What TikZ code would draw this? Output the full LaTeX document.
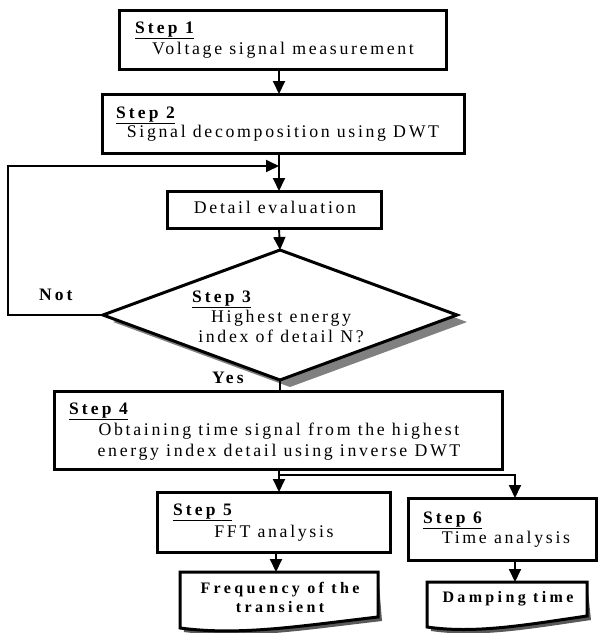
\documentclass[tikz,border=0pt]{standalone}
\usepackage{fontspec}
\setmainfont{Liberation Serif}[LetterSpace=15]
\newfontfamily\labfont{Liberation Serif}[LetterSpace=18]
\newfontfamily\docfont{Liberation Serif}[LetterSpace=21]
\usetikzlibrary{arrows.meta,shapes.geometric,shadows}
\begin{document}
\begin{tikzpicture}[x=1pt,y=-1pt,
  every node/.style={font=\fontsize{17.8}{21}\selectfont, inner sep=0pt, outer sep=0pt},
  stepbox/.style={draw, line width=3pt, fill=white},
  decbox/.style={draw, diamond, line width=3pt, fill=white, inner sep=0pt,
     drop shadow={shadow xshift=10pt, shadow yshift=-7pt, fill=black!50, opacity=1}},
  arr/.style={line width=1.9pt, -{Triangle[length=13pt,width=12pt]}},
  plain/.style={line width=1.9pt},
  docline/.style={line width=3pt, fill=white},
  docshadow/.style={fill=black!65, shift={(4,4)}},
  lab/.style={anchor=base west, font=\fontsize{17.5}{20}\selectfont\labfont\bfseries},
  txt/.style={anchor=base},
  btxt/.style={anchor=base, font=\fontsize{16}{19}\selectfont\docfont\bfseries}
]
\useasboundingbox (0,0) rectangle (598,633);

% column coordinates
\coordinate (colx) at (279,0);
\coordinate (c5) at (276,0);
\coordinate (c6) at (515,0);

% boxes
\node[stepbox, minimum width=327pt, minimum height=59pt] (s1) at (282.5,39.5) {};
\node[stepbox, minimum width=362pt, minimum height=59pt] (s2) at (283,123.5) {};
\node[stepbox, minimum width=214pt, minimum height=37pt] (det) at (274,209.5) {};
\node[decbox, minimum width=354pt, minimum height=130pt] (dia) at (280,315) {};
\node[stepbox, minimum width=448pt, minimum height=78pt] (s4) at (278,430) {};
\node[stepbox, minimum width=233pt, minimum height=60pt] (s5) at (273.5,522) {};
\node[stepbox, minimum width=188pt, minimum height=62pt] (s6) at (502,529) {};

% documents (areas)
\node[minimum width=198pt, minimum height=44pt] (freq) at (279,594) {};
\node[minimum width=160pt, minimum height=34pt] (damp) at (507,599) {};

% document shapes with shadows
\fill[docshadow]
  (freq.north west) -- (freq.north east) -- (378,617)
  .. controls (300,626) and (240,636) .. (180,628) -- cycle;
\draw[docline]
  (freq.north west) -- (freq.north east) -- (378,617)
  .. controls (300,626) and (240,636) .. (180,628) -- cycle;
\fill[docshadow]
  (damp.north west) -- (damp.north east) -- (587,616)
  .. controls (525,625) and (475,634) .. (427,627) -- cycle;
\draw[docline]
  (damp.north west) -- (damp.north east) -- (587,616)
  .. controls (525,625) and (475,634) .. (427,627) -- cycle;

% texts
\node[lab] (s1lab) at (135,33) {\underline{Step 1}};
\node[txt] (s1txt) at (283,54) {Voltage signal measurement};
\node[lab] (s2lab) at (116,118) {\underline{Step 2}};
\node[txt] (s2txt) at (283,137) {Signal decomposition using DWT};
\node[txt] (dettxt) at (275,213) {Detail evaluation};
\node[lab] (s3lab) at (192,302) {\underline{Step 3}};
\node[txt] (s3a) at (281,322) {Highest energy};
\node[txt] (s3b) at (281,342) {index of detail N?};
\node[lab] (notl) at (39,300) {Not};
\node[lab] (yesl) at (212,383) {Yes};
\node[lab] (s4lab) at (69,414) {\underline{Step 4}};
\node[txt] (s4a) at (279,435) {Obtaining time signal from the highest};
\node[txt] (s4b) at (279,456) {energy index detail using inverse DWT};
\node[lab] (s5lab) at (173,515) {\underline{Step 5}};
\node[txt] (s5txt) at (274,537) {FFT analysis};
\node[lab] (s6lab) at (423,523) {\underline{Step 6}};
\node[txt] (s6txt) at (506,543) {Time analysis};
\node[btxt] (fa) at (280,593) {Frequency of the};
\node[btxt] (fb) at (280,612) {transient};
\node[btxt] (da) at (508,602) {Damping time};

% connectors
\coordinate (join) at (279,166);
\coordinate (br) at (279,475);
\draw[arr] (s1.south -| colx) -- (s2.north -| colx);
\draw[arr] (s2.south -| colx) -- (det.north -| colx);
\draw[arr] (dia.west) -| (8,166) -- (join);
\draw[arr] (det.south -| colx) -- (dia.north);
\draw[plain] (dia.south) -- (s4.north -| dia.south);
\draw[arr] (s4.south -| colx) -- (s5.north -| colx);
\draw[arr] (br) -| (s6.north -| c6);
\draw[arr] (s5.south -| c5) -- (freq.north -| c5);
\draw[arr] (s6.south -| c6) -- (damp.north -| c6);
\end{tikzpicture}
\end{document}
